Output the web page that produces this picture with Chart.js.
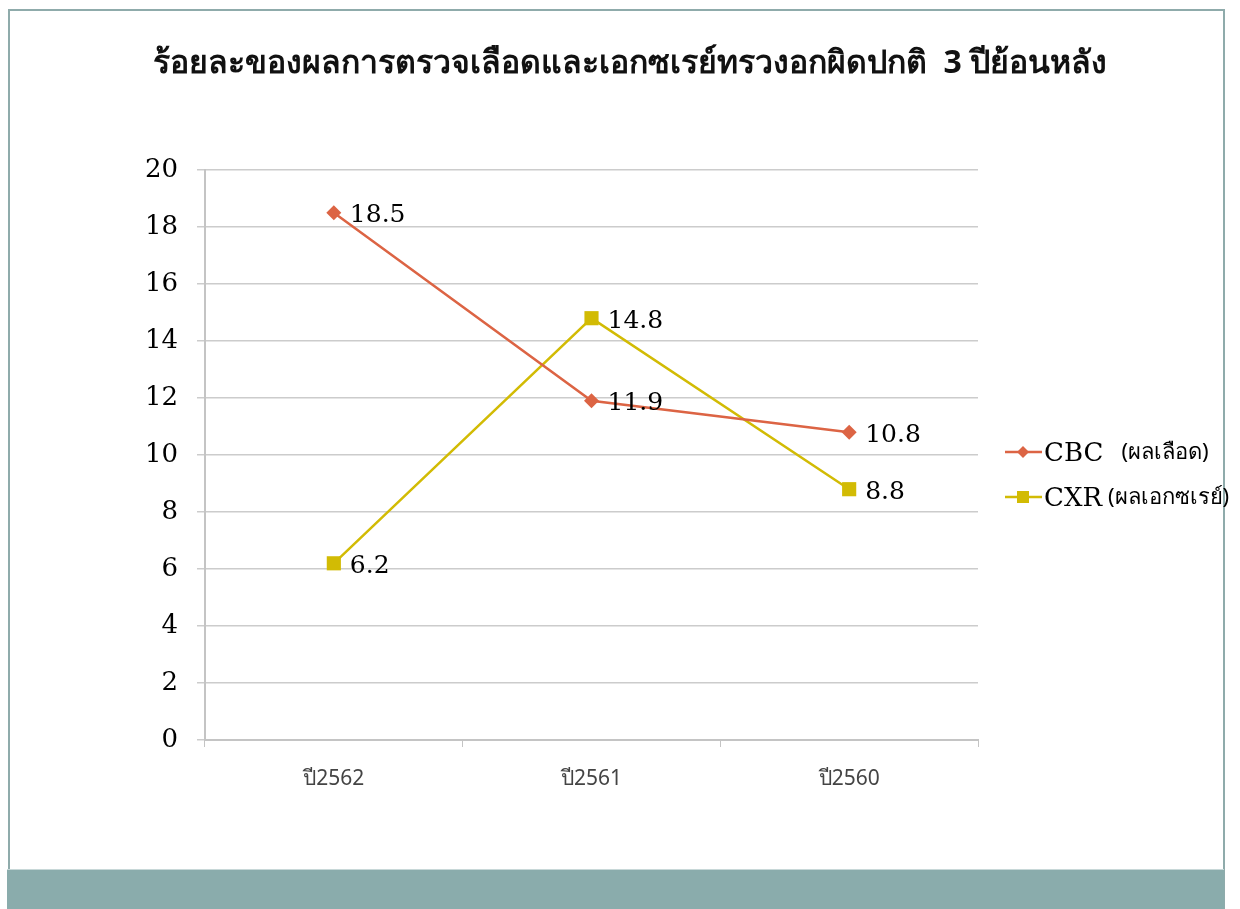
<!DOCTYPE html>
<html lang="th">

<head>
  <meta charset="UTF-8">
  <title>ร้อยละของผลการตรวจเลือดและเอกซเรย์ทรวงอกผิดปกติ</title>
  <style>
    html, body {
      margin: 0;
      padding: 0;
      background: #ffffff;
      overflow: hidden;
    }

    #frame {
      position: absolute;
      left: 8px;
      top: 9px;
      width: 1217px;
      height: 900px;
      border: 2px solid #8fabab;
      border-bottom: none;
      box-sizing: border-box;
    }

    #footer-bar {
      position: absolute;
      left: 7px;
      top: 869px;
      width: 1217px;
      height: 40px;
      background-color: #8aacac;
      border-top: 1px solid #c8d8d8;
    }

    #chart-box {
      position: absolute;
      left: 0;
      top: 0;
      width: 1240px;
      height: 909px;
    }
  </style>
</head>

<body>
  <div id="frame"></div>
  <div id="footer-bar"></div>
  <div id="chart-box">
    <canvas id="chart" width="1240" height="909"></canvas>
  </div>

  <script src="https://cdn.jsdelivr.net/npm/chart.js@4"></script>

  <script>
    // data
    const titleText = 'ร้อยละของผลการตรวจเลือดและเอกซเรย์ทรวงอกผิดปกติ  3 ปีย้อนหลัง';
    const years = ['ปี2562', 'ปี2561', 'ปี2560'];
    const cbcValues = [18.5, 11.9, 10.8];
    const cxrValues = [6.2, 14.8, 8.8];
    const seriesNames = ['CBC (ผลเลือด)', 'CXR (ผลเอกซเรย์)'];
    const yTicks = [0, 2, 4, 6, 8, 10, 12, 14, 16, 18, 20];

    const serif = "'DejaVu Serif', 'Liberation Serif', serif";
    const sans = "'Noto Sans', 'DejaVu Sans', sans-serif";

    // title centred on the slide, not on the plot
    const slideTitle = {
      id: 'slideTitle',
      afterDraw(chart) {
        const ctx = chart.ctx;
        ctx.save();
        ctx.font = 'bold 32px ' + sans;
        ctx.fillStyle = '#111111';
        ctx.textAlign = 'center';
        ctx.textBaseline = 'middle';
        ctx.fillText(titleText, 630, 64);
        ctx.restore();
      }
    };

    // value labels to the right of each point
    const valueLabels = {
      id: 'valueLabels',
      afterDatasetsDraw(chart) {
        const ctx = chart.ctx;
        ctx.save();
        ctx.font = '25px ' + serif;
        ctx.fillStyle = '#000000';
        ctx.textAlign = 'left';
        ctx.textBaseline = 'middle';
        chart.data.datasets.forEach((ds, i) => {
          chart.getDatasetMeta(i).data.forEach((pt, j) => {
            ctx.fillText(ds.data[j].toFixed(1), pt.x + 16, pt.y + 3);
          });
        });
        ctx.restore();
      }
    };

    // legend on the right: code in serif, Thai note in sans
    const sideLegend = {
      id: 'sideLegend',
      afterDraw(chart) {
        const ctx = chart.ctx;
        const x0 = 1005;
        const rows = [452, 497];
        ctx.save();
        chart.data.datasets.forEach((ds, i) => {
          const y = rows[i];
          ctx.strokeStyle = ds.borderColor;
          ctx.lineWidth = 2.5;
          ctx.beginPath();
          ctx.moveTo(x0, y);
          ctx.lineTo(x0 + 37, y);
          ctx.stroke();
          ctx.fillStyle = ds.borderColor;
          if (ds.pointStyle === 'rectRot') {
            ctx.beginPath();
            ctx.moveTo(x0 + 18, y - 6);
            ctx.lineTo(x0 + 24, y);
            ctx.lineTo(x0 + 18, y + 6);
            ctx.lineTo(x0 + 12, y);
            ctx.closePath();
            ctx.fill();
          } else {
            ctx.fillRect(x0 + 12, y - 6, 12, 12);
          }
          const parts = ds.label.split(' ');
          ctx.fillStyle = '#000000';
          ctx.textBaseline = 'middle';
          ctx.font = '26px ' + serif;
          ctx.fillText(parts[0], x0 + 39, y + 2);
          const w = ctx.measureText(parts[0]).width;
          ctx.font = '22px ' + sans;
          ctx.fillText(parts.slice(1).join(' '), x0 + 39 + w + (i === 0 ? 18 : 6), y + 1);
        });
        ctx.restore();
      }
    };

    const chart = new Chart(document.getElementById('chart'), {
      type: 'line',
      data: {
        labels: years,
        datasets: [{
          label: seriesNames[0],
          data: cbcValues,
          borderColor: '#dc6444',
          backgroundColor: '#dc6444',
          borderWidth: 2.5,
          pointStyle: 'rectRot',
          pointRadius: 7.5,
          pointBorderWidth: 0,
          tension: 0
        }, {
          label: seriesNames[1],
          data: cxrValues,
          borderColor: '#d2bb04',
          backgroundColor: '#d2bb04',
          borderWidth: 2.5,
          pointStyle: 'rect',
          pointRadius: 10,
          pointBorderWidth: 0,
          tension: 0
        }]
      },
      options: {
        responsive: false,
        animation: false,
        layout: {
          padding: { left: 100, right: 262, top: 170, bottom: 0 }
        },
        plugins: {
          legend: { display: false },
          tooltip: { enabled: false },
          title: { display: false }
        },
        scales: {
          x: {
            offset: true,
            afterFit(scale) { scale.height = 169; },
            grid: {
              offset: true,
              drawOnChartArea: false,
              drawTicks: true,
              tickLength: 7,
              color: '#c4c4c4'
            },
            border: { color: '#c4c4c4', width: 2 },
            ticks: {
              color: '#444444',
              padding: 19,
              font: { family: sans, size: 21 }
            }
          },
          y: {
            min: 0,
            max: 20,
            afterFit(scale) { scale.width = 105; },
            afterBuildTicks(scale) { scale.ticks = yTicks.map(v => ({ value: v })); },
            grid: {
              color: '#cccccc',
              lineWidth: 1.5,
              drawTicks: true,
              tickLength: 8,
            },
            border: { color: '#c4c4c4', width: 2 },
            ticks: {
              color: '#000000',
              padding: 19,
              font: { family: serif, size: 26 }
            }
          }
        }
      },
      plugins: [slideTitle, valueLabels, sideLegend]
    });
  </script>
</body>

</html>
